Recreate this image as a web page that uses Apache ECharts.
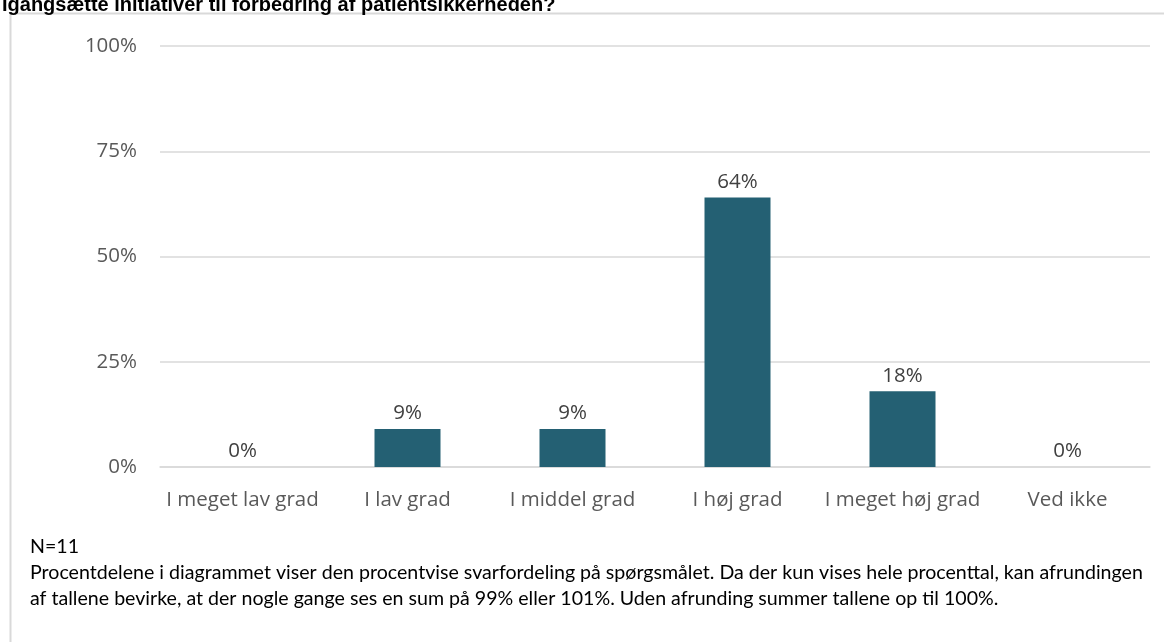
<!DOCTYPE html>
<html><head><meta charset="utf-8">
<script src="https://cdn.jsdelivr.net/npm/echarts@6/dist/echarts.min.js"></script>
<style>html,body{margin:0;padding:0;background:#fff}#c{width:1164px;height:642px}</style>
</head><body><div id="c"></div>
<script>
const categories = ["I meget lav grad","I lav grad","I middel grad","I høj grad","I meget høj grad","Ved ikke"];
const values = [0, 9, 9, 64, 18, 0];
const yTicks = [0, 25, 50, 75, 100];
const titleText = "Igangsætte initiativer til forbedring af patientsikkerheden?";
const noteN = "N=11";
const noteLine1 = "Procentdelene i diagrammet viser den procentvise svarfordeling på spørgsmålet. Da der kun vises hele procenttal, kan afrundingen";
const noteLine2 = "af tallene bevirke, at der nogle gange ses en sum på 99% eller 101%. Uden afrunding summer tallene op til 100%.";

const chart = echarts.init(document.getElementById('c'), null, {renderer:'canvas'});
chart.setOption({
  animation:false,
  backgroundColor:'#fff',
  grid:{left:160, right:14, top:46, bottom:175, containLabel:false},
  xAxis:{type:'category', data:categories,
    axisLine:{show:true, lineStyle:{color:'#d9d9d9', width:1.5}},
    axisTick:{show:false},
    axisLabel:{color:'#595959', fontSize:20.5, fontFamily:'Open Sans', margin:23, interval:0}},
  yAxis:{type:'value', min:0, max:100, interval:25,
    axisLine:{show:false}, axisTick:{show:false},
    splitLine:{lineStyle:{color:'#d9d9d9', width:1.5}},
    axisLabel:{color:'#595959', fontSize:20.5, fontFamily:'Open Sans', margin:23,
      formatter:v=> yTicks.includes(v) ? v+'%' : ''}},
  series:[{type:'bar', data:values, barWidth:'40%',
    itemStyle:{color:'#246073'},
    label:{show:true, position:'top', distance:5, color:'#404040', fontSize:20.5, fontFamily:'Open Sans', formatter:p=>p.value+'%'}}],
  graphic:[
    {type:'rect', shape:{x:10.5, y:13.5, width:1200, height:700}, style:{fill:null, stroke:'#d9d9d9', lineWidth:2}, z:-1},
    {type:'text', left:2, top:-5, style:{text:titleText, font:'bold 20px "Liberation Sans"', fill:'#000'}},
    {type:'text', left:30, top:537, style:{text:noteN, font:'19.6px Lato', fill:'#000'}},
    {type:'text', left:30, top:563, style:{text:noteLine1, font:'19.6px Lato', fill:'#000'}},
    {type:'text', left:30, top:589, style:{text:noteLine2, font:'19.6px Lato', fill:'#000'}}
  ]
});
</script></body></html>
